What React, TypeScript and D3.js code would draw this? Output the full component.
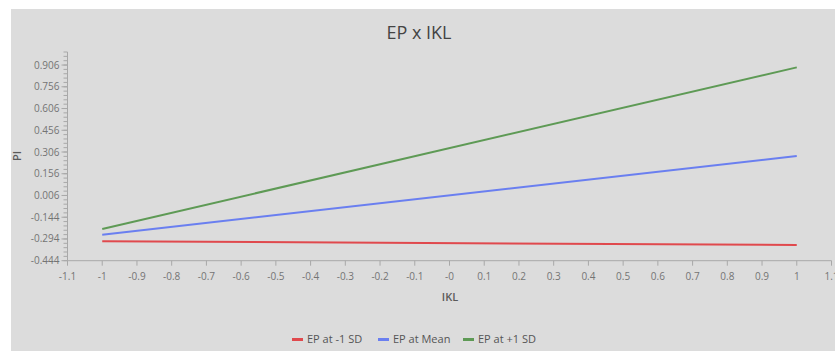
import React, { useEffect, useRef } from "react";
import * as d3 from "d3";

const title = "EP x IKL";
const xLabel = "IKL";
const yLabel = "PI";
const xPoints = [-1, 1];
const seriesNames = ["EP at -1 SD", "EP at Mean", "EP at +1 SD"];
const seriesColors = ["#e0494d", "#6a7ff0", "#5e9a55"];
const lowSD = [-0.31, -0.336];
const meanVals = [-0.265, 0.278];
const highSD = [-0.225, 0.89];
const xTicks = [-1.1, -1, -0.9, -0.8, -0.7, -0.6, -0.5, -0.4, -0.3, -0.2, -0.1, 0, 0.1, 0.2, 0.3, 0.4, 0.5, 0.6, 0.7, 0.8, 0.9, 1, 1.1];
const xTickLabels = ["-1.1", "-1", "-0.9", "-0.8", "-0.7", "-0.6", "-0.5", "-0.4", "-0.3", "-0.2", "-0.1", "-0", "0.1", "0.2", "0.3", "0.4", "0.5", "0.6", "0.7", "0.8", "0.9", "1", "1.1"];
const yTicks = [-0.444, -0.294, -0.144, 0.006, 0.156, 0.306, 0.456, 0.606, 0.756, 0.906];
const yTickLabels = ["-0.444", "-0.294", "-0.144", "0.006", "0.156", "0.306", "0.456", "0.606", "0.756", "0.906"];
const yMin = -0.444;
const yMax = 0.996;
const yMinorStep = 0.03;

export default function App() {
  const ref = useRef<SVGSVGElement>(null);
  useEffect(() => {
    const svg = d3.select(ref.current);
    svg.selectAll("*").remove();
    const W = 835, H = 351;
    const font = "'Open Sans', 'Noto Sans', sans-serif";
    svg.append("rect").attr("width", W).attr("height", H).attr("fill", "#ffffff");
    svg.append("rect").attr("x", 11).attr("y", 9).attr("width", W - 11).attr("height", H - 9).attr("fill", "#dcdcdc");

    const x = d3.scaleLinear().domain([-1.1, 1.1]).range([67.5, 831.5]);
    const y = d3.scaleLinear().domain([yMin, yMax]).range([260.7, 52]);
    const axisColor = "#a8a8a8";
    const labelColor = "#747474";

    // title
    svg.append("text").attr("x", 419).attr("y", 39).attr("text-anchor", "middle")
      .attr("font-family", font).attr("font-size", 18).attr("fill", "#444").text(title);

    // y axis
    const g = svg.append("g");
    g.append("line").attr("x1", x(-1.1)).attr("x2", x(-1.1)).attr("y1", y(yMax)).attr("y2", y(yMin))
      .attr("stroke", axisColor).attr("stroke-width", 1);
    const nMinor = Math.round((yMax - yMin) / yMinorStep);
    d3.range(nMinor + 1).forEach((i) => {
      const v = yMin + i * yMinorStep;
      g.append("line").attr("x1", x(-1.1) - 4).attr("x2", x(-1.1)).attr("y1", y(v)).attr("y2", y(v))
        .attr("stroke", axisColor).attr("stroke-width", 1);
    });
    yTicks.forEach((v, i) => {
      g.append("line").attr("x1", x(-1.1) - 6).attr("x2", x(-1.1)).attr("y1", y(v)).attr("y2", y(v))
        .attr("stroke", axisColor).attr("stroke-width", 1);
      g.append("text").attr("x", x(-1.1) - 8).attr("y", y(v)).attr("dy", "0.35em").attr("text-anchor", "end")
        .attr("font-family", font).attr("font-size", 10).attr("fill", labelColor).text(yTickLabels[i]);
    });

    // x axis
    g.append("line").attr("x1", x(-1.1)).attr("x2", x(1.1)).attr("y1", y(yMin)).attr("y2", y(yMin))
      .attr("stroke", axisColor).attr("stroke-width", 1);
    xTicks.forEach((v, i) => {
      g.append("line").attr("x1", x(v)).attr("x2", x(v)).attr("y1", y(yMin)).attr("y2", y(yMin) + 5)
        .attr("stroke", axisColor).attr("stroke-width", 1);
      g.append("text").attr("x", x(v)).attr("y", y(yMin) + 19).attr("text-anchor", "middle")
        .attr("font-family", font).attr("font-size", 10).attr("fill", labelColor).text(xTickLabels[i]);
    });

    // axis labels
    svg.append("text").attr("x", 450).attr("y", 301).attr("text-anchor", "middle")
      .attr("font-family", font).attr("font-size", 11).attr("font-weight", 600).attr("fill", "#5a5a5a").text(xLabel);
    svg.append("text").attr("transform", "translate(21,156) rotate(-90)").attr("text-anchor", "middle")
      .attr("font-family", font).attr("font-size", 11).attr("font-weight", 600).attr("fill", "#5a5a5a").text(yLabel);

    // lines
    const allSeries = [lowSD, meanVals, highSD];
    const line = d3.line<number>().x((_, i) => x(xPoints[i])).y((d) => y(d));
    allSeries.forEach((s, i) => {
      svg.append("path").datum(s).attr("d", line).attr("fill", "none")
        .attr("stroke", seriesColors[i]).attr("stroke-width", 2);
    });

    // legend
    const legendX = [292, 378, 463];
    seriesNames.forEach((name, i) => {
      svg.append("rect").attr("x", legendX[i]).attr("y", 338).attr("width", 11).attr("height", 3)
        .attr("fill", seriesColors[i]);
      svg.append("text").attr("x", legendX[i] + 15).attr("y", 339.5).attr("dy", "0.35em")
        .attr("font-family", font).attr("font-size", 11).attr("fill", "#555").text(name);
    });
  }, []);
  return (
    <svg ref={ref} width={835} height={351} style={{ position: "absolute", left: 0, top: 0 }} />
  );
}
